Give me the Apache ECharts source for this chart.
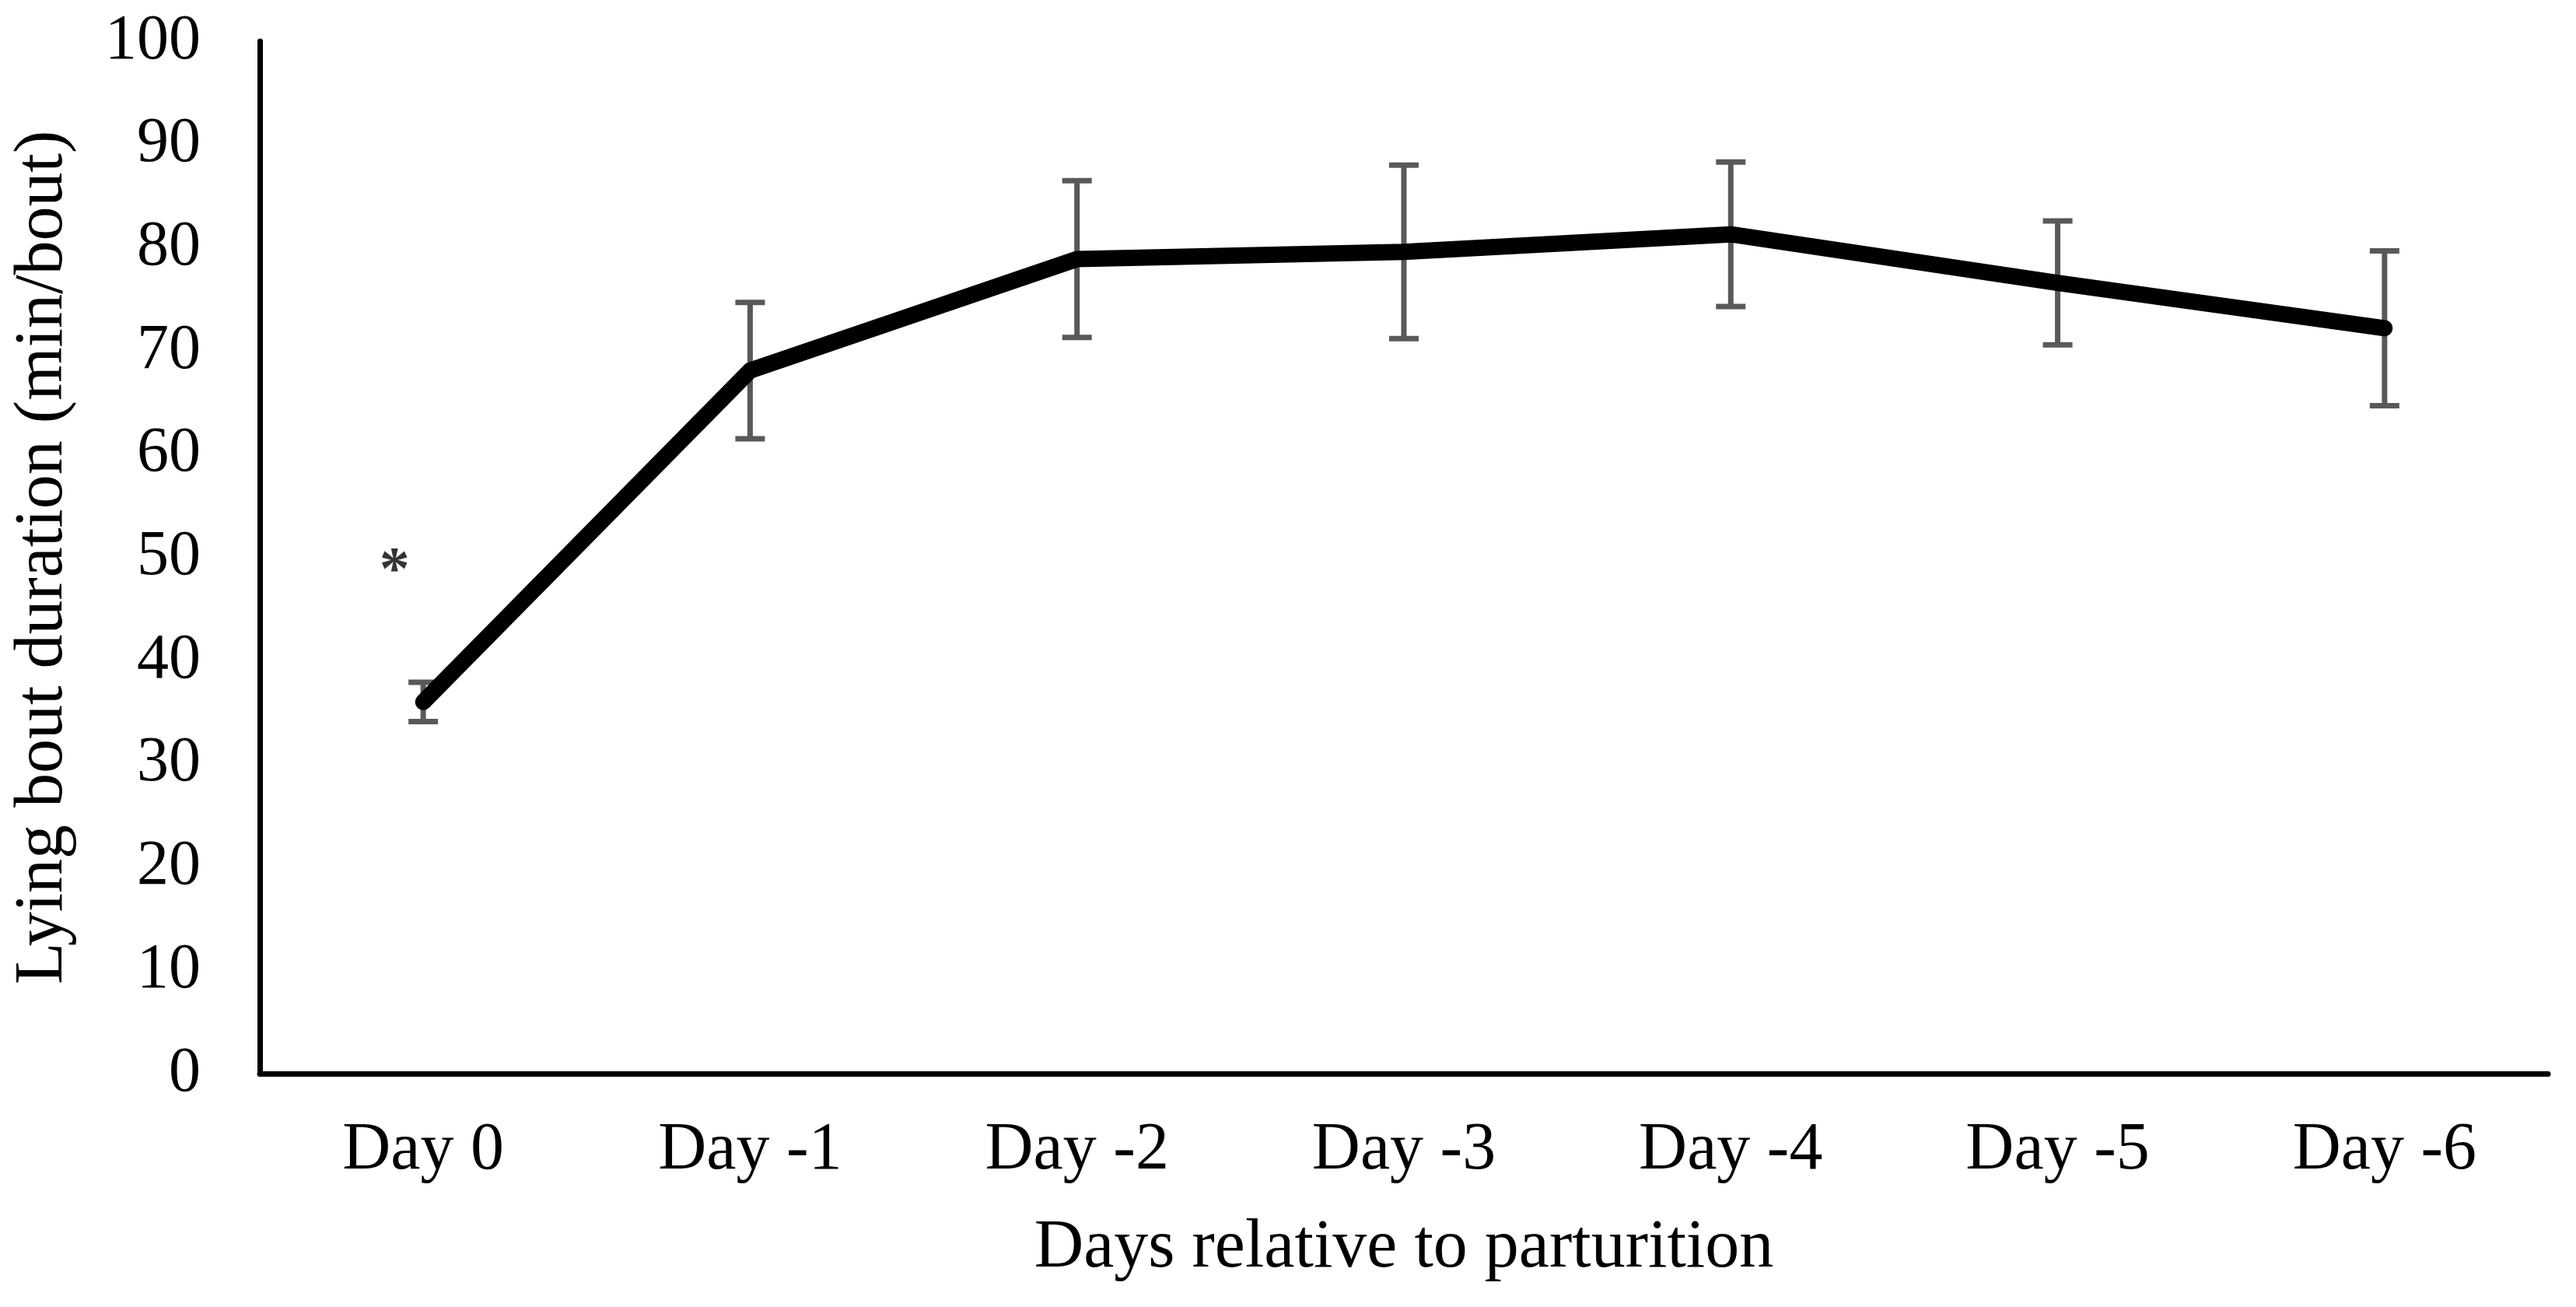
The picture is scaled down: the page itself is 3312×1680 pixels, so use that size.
<!DOCTYPE html>
<html>
<head>
<meta charset="utf-8">
<script src="https://cdn.jsdelivr.net/npm/echarts@6/dist/echarts.min.js"></script>
<style>
html,body{margin:0;padding:0;background:#fff;}
#chart{width:3312px;height:1680px;}
</style>
</head>
<body>
<div id="chart"></div>
<script>
const categories = ['Day 0', 'Day -1', 'Day -2', 'Day -3', 'Day -4', 'Day -5', 'Day -6'];
const means = [36.0, 68.1, 78.9, 79.6, 81.3, 76.6, 72.2];
const errors = [1.9, 6.6, 7.6, 8.4, 7.0, 6.0, 7.5];
const yTicks = [0, 10, 20, 30, 40, 50, 60, 70, 80, 90, 100];
const significance = [{ category: 'Day 0', value: 49.3, mark: '*' }];

const FONT = '"Liberation Serif", "Times New Roman", serif';
const errData = categories.map((c, i) => [i, means[i] - errors[i], means[i] + errors[i]]);

const chart = echarts.init(document.getElementById('chart'));
chart.setOption({
  backgroundColor: '#ffffff',
  animation: false,
  grid: { left: 334, right: 36, top: 53, bottom: 300, containLabel: false },
  xAxis: {
    type: 'category',
    data: categories,
    boundaryGap: true,
    axisLine: { show: true, lineStyle: { color: '#000', width: 7 } },
    axisTick: { show: false },
    axisLabel: { color: '#000', fontFamily: FONT, fontSize: 86, margin: 56 },
    name: 'Days relative to parturition',
    nameLocation: 'middle',
    nameGap: 181,
    nameTextStyle: { color: '#000', fontFamily: FONT, fontSize: 88 }
  },
  yAxis: {
    type: 'value',
    min: 0, max: 100, interval: 10,
    axisLine: { show: true, lineStyle: { color: '#000', width: 7 } },
    axisTick: { show: false },
    splitLine: { show: false },
    axisLabel: {
      color: '#000', fontFamily: FONT, fontSize: 82, margin: 76,
      formatter: v => yTicks.includes(v) ? String(v) : ''
    },
    name: 'Lying bout duration (min/bout)',
    nameLocation: 'middle',
    nameGap: 234,
    nameTextStyle: { color: '#000', fontFamily: FONT, fontSize: 88 }
  },
  series: [
    {
      type: 'custom',
      z: 1,
      data: errData,
      renderItem: function (params, api) {
        const x = api.value(0);
        const lo = api.coord([x, api.value(1)]);
        const hi = api.coord([x, api.value(2)]);
        const hw = 19;
        const style = { stroke: '#595959', lineWidth: 7 };
        return {
          type: 'group',
          children: [
            { type: 'line', shape: { x1: lo[0], y1: lo[1], x2: hi[0], y2: hi[1] }, style: style },
            { type: 'line', shape: { x1: lo[0] - hw, y1: lo[1], x2: lo[0] + hw, y2: lo[1] }, style: style },
            { type: 'line', shape: { x1: hi[0] - hw, y1: hi[1], x2: hi[0] + hw, y2: hi[1] }, style: style }
          ]
        };
      }
    },
    {
      type: 'line',
      z: 2,
      data: means,
      symbol: 'none',
      lineStyle: { color: '#000', width: 21, cap: 'round', join: 'round' }
    },
    {
      type: 'scatter',
      z: 3,
      symbolSize: 0,
      data: significance.map(s => [categories.indexOf(s.category), s.value]),
      label: {
        show: true,
        position: 'inside',
        formatter: () => significance[0].mark,
        color: '#000',
        fontFamily: FONT,
        fontWeight: 'bold',
        fontSize: 78,
        offset: [-37, 10]
      }
    }
  ]
});
</script>
</body>
</html>
